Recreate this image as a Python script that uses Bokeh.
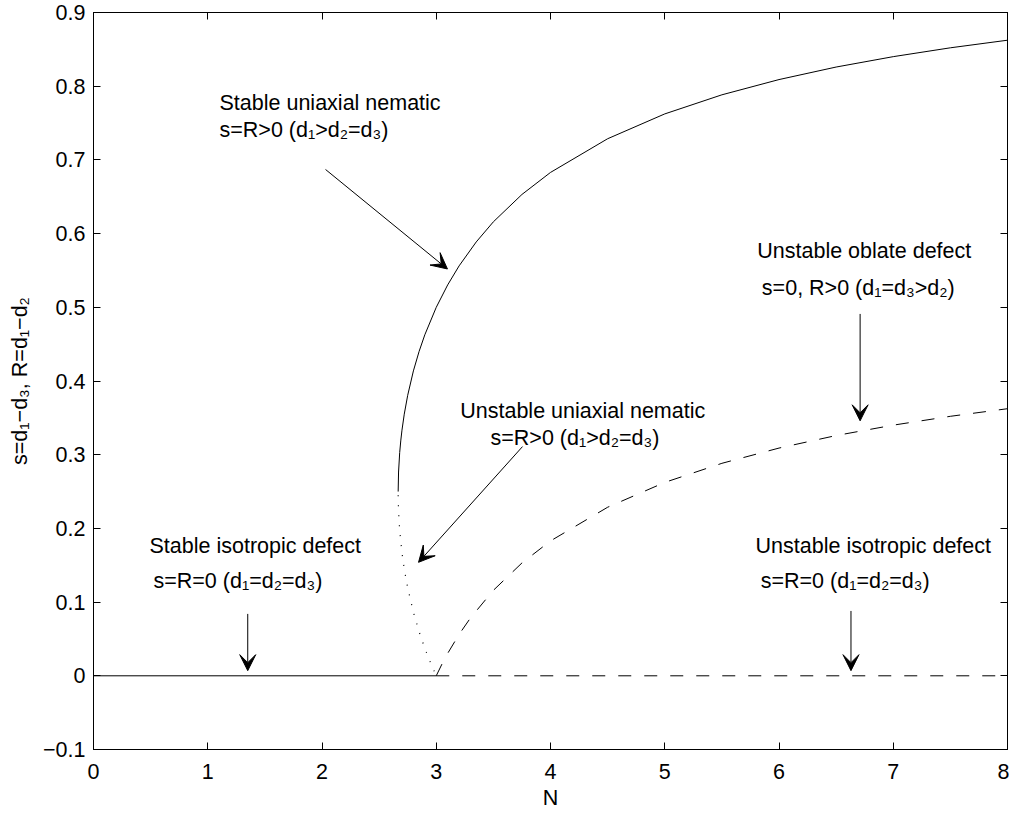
from bokeh.plotting import figure
from bokeh.models import (Range1d, FixedTicker, LinearAxis, CustomJSTickFormatter,
                          CustomLabelingPolicy, Arrow, VeeHead, Label)
from bokeh.embed import file_html
from bokeh.resources import INLINE

# ---------------- data ----------------
# stable uniaxial nematic branch (solid)
stable_nem_N = [2.6667, 2.67, 2.68, 2.69, 2.70, 2.72, 2.75, 2.80, 2.85, 2.90, 3.00,
                3.10, 3.20, 3.35, 3.50, 3.75, 4.00, 4.50, 5.00, 5.50, 6.00, 6.50,
                7.00, 7.50, 8.00]
stable_nem_s = [0.250, 0.2765, 0.303, 0.3198, 0.3333, 0.355, 0.3806, 0.4137, 0.4402,
                0.4627, 0.500, 0.5304, 0.5562, 0.5887, 0.616, 0.6531, 0.683, 0.7287,
                0.7624, 0.7883, 0.809, 0.826, 0.8401, 0.8521, 0.8624]

# unstable uniaxial nematic branch (dotted)
unstable_nem_N = [2.6667, 2.67, 2.68, 2.70, 2.72, 2.75, 2.80, 2.85, 2.90, 2.95, 3.00]
unstable_nem_s = [0.245, 0.2235, 0.197, 0.1667, 0.145, 0.1194, 0.0863, 0.0598,
                  0.0373, 0.0176, 0.0]

# unstable oblate defect branch (dashed)
oblate_N = [3.00, 3.05, 3.10, 3.20, 3.30, 3.50, 3.75, 4.00, 4.50, 5.00, 5.50,
            6.00, 6.50, 7.00, 7.50, 8.00]
oblate_R = [0.0, 0.0159, 0.0304, 0.0562, 0.0786, 0.116, 0.1531, 0.183, 0.2287,
            0.2624, 0.2883, 0.309, 0.326, 0.3401, 0.3521, 0.3624]

# isotropic defect (stable solid, unstable dashed)
iso_stable_N = [0.0, 3.0]
iso_stable_s = [0.0, 0.0]
iso_unstable_N = [3.0, 8.0]
iso_unstable_s = [0.0, 0.0]

x_ticks = [0, 1, 2, 3, 4, 5, 6, 7, 8]
y_ticks = [-0.1, 0.0, 0.1, 0.2, 0.3, 0.4, 0.5, 0.6, 0.7, 0.8, 0.9]

FONT = "Liberation Sans"
FS = "21.5px"

# ---------------- figure ----------------
p = figure(frame_width=914, frame_height=737,
           x_range=Range1d(0, 8), y_range=Range1d(-0.1, 0.9),
           output_backend="svg", toolbar_location=None,
           min_border_left=93, min_border_top=12, min_border_right=2,
           min_border_bottom=0)
p.xgrid.visible = False
p.ygrid.visible = False
p.outline_line_color = "black"
p.outline_line_width = 1
p.background_fill_color = "white"
p.border_fill_color = "white"

def style_axis(ax, labels=True):
    ax.axis_line_color = "black"
    ax.axis_line_width = 1
    ax.major_tick_in = 7
    ax.major_tick_out = 0
    ax.major_tick_line_color = "black"
    ax.minor_tick_line_color = None
    ax.major_label_text_font = FONT
    ax.major_label_text_font_size = FS if labels else "0px"
    ax.major_label_text_color = "black"
    ax.axis_label_text_font = FONT
    ax.axis_label_text_font_size = FS
    ax.axis_label_text_font_style = "normal"
    ax.axis_label_text_color = "black"
    if not labels:
        ax.major_label_policy = CustomLabelingPolicy(code="""
for (const i of indices) indices.unset(i)
return indices
""")

xa = p.xaxis[0]
ya = p.yaxis[0]
xa.ticker = FixedTicker(ticks=x_ticks)
ya.ticker = FixedTicker(ticks=y_ticks)
style_axis(xa)
style_axis(ya)
xa.major_label_standoff = 14
ya.major_label_standoff = 8
xa.axis_label = "N"
xa.axis_label_standoff = 4
ya.axis_label = "s=d\u2081\u2212d\u2083, R=d\u2081\u2212d\u2082"
ya.axis_label_standoff = 8
ya.formatter = CustomJSTickFormatter(code="""
const v = Math.round(tick*10)/10;
if (Math.abs(v) < 1e-9) return "0";
const s = Math.abs(v).toFixed(1);
return v < 0 ? "\u2212" + s : s;
""")

top = LinearAxis(ticker=FixedTicker(ticks=x_ticks), major_label_standoff=0)
right = LinearAxis(ticker=FixedTicker(ticks=y_ticks), major_label_standoff=0)
style_axis(top, labels=False)
style_axis(right, labels=False)
p.add_layout(top, "above")
p.add_layout(right, "right")

# ---------------- curves ----------------
p.line(iso_stable_N, iso_stable_s, line_color="black", line_width=1)
p.line(iso_unstable_N, iso_unstable_s, line_color="black", line_width=1,
       line_dash="13 13")
p.line(stable_nem_N, stable_nem_s, line_color="black", line_width=1)
p.line(unstable_nem_N, unstable_nem_s, line_color="black", line_width=1.2,
       line_dash="1 9")
p.line(oblate_N, oblate_R, line_color="black", line_width=1, line_dash="13 13")

# ---------------- annotations ----------------
arrows = [
    (2.031, 0.687, 3.098, 0.552),   # stable uniaxial nematic
    (3.755, 0.311, 2.845, 0.154),   # unstable uniaxial nematic
    (6.71, 0.491, 6.71, 0.346),     # unstable oblate
    (1.35, 0.084, 1.35, 0.007),     # stable isotropic
    (6.63, 0.088, 6.63, 0.007),     # unstable isotropic
]
for xs, ys, xe, ye in arrows:
    p.add_layout(Arrow(end=VeeHead(size=16, fill_color="black", line_color="black",
                                   line_width=1),
                       x_start=xs, y_start=ys, x_end=xe, y_end=ye,
                       line_color="black", line_width=1))

labels = [
    (1.103, 0.777, "Stable uniaxial nematic"),
    (1.103, 0.741, "s=R>0 (d\u2081>d\u2082=d\u2083)"),
    (3.21, 0.359, "Unstable uniaxial nematic"),
    (3.475, 0.323, "s=R>0 (d\u2081>d\u2082=d\u2083)"),
    (5.81, 0.576, "Unstable oblate defect"),
    (5.85, 0.526, "s=0, R>0 (d\u2081=d\u2083>d\u2082)"),
    (0.49, 0.176, "Stable isotropic defect"),
    (0.525, 0.129, "s=R=0 (d\u2081=d\u2082=d\u2083)"),
    (5.795, 0.176, "Unstable isotropic defect"),
    (5.84, 0.129, "s=R=0 (d\u2081=d\u2082=d\u2083)"),
]
for x, y, t in labels:
    p.add_layout(Label(x=x, y=y, text=t, text_font=FONT, text_font_size=FS,
                       text_baseline="middle", text_align="left",
                       text_color="black"))

open("out.html", "w").write(file_html(p, INLINE))
